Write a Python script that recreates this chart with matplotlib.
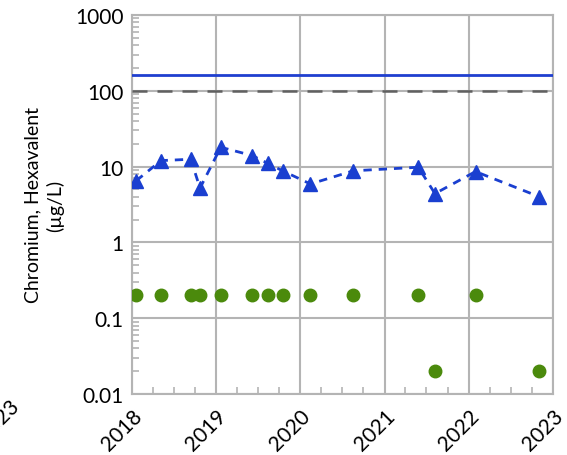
import matplotlib
matplotlib.use("Agg")
import matplotlib.pyplot as plt
import matplotlib.dates as mdates
import matplotlib.ticker as mticker
import numpy as np
import datetime as dt

plt.rcParams['font.family'] = ['Lato', 'DejaVu Sans']

dates = ["2018-01-19", "2018-05-07", "2018-09-13", "2018-10-23", "2019-01-21",
         "2019-06-06", "2019-08-14", "2019-10-16", "2020-02-14", "2020-08-18",
         "2021-05-27", "2021-08-07", "2022-01-30", "2022-11-03"]
hexavalent = [6.5, 12, 12.5, 5.2, 18, 14, 11, 8.8, 5.9, 8.8, 9.8, 4.4, 8.6, 4.0]
reporting_limit = [0.2, 0.2, 0.2, 0.2, 0.2, 0.2, 0.2, 0.2, 0.2, 0.2, 0.2, 0.02, 0.2, 0.02]
upper_limit = 160
screening_level = 100
year_labels = ["2018", "2019", "2020", "2021", "2022", "2023"]
y_ticks = [0.01, 0.1, 1, 10, 100, 1000]
y_tick_labels = ["0.01", "0.1", "1", "10", "100", "1000"]

x = [dt.datetime.strptime(d, "%Y-%m-%d") for d in dates]

fig = plt.figure(figsize=(5.67, 4.56), dpi=100)
ax = fig.add_axes([0.2328, 0.1338, 0.7425, 0.8311])

ax.axhline(upper_limit, color="#1f3fcf", lw=2.0, zorder=3)
ax.axhline(screening_level, color="#606060", lw=1.8, ls=(0, (6, 4)), zorder=3)
ax.plot(x, hexavalent, color="#1a3fd0", lw=2.0, ls=(0, (3, 2.5)), marker="^",
        markersize=10, zorder=4)
ax.plot(x, reporting_limit, ls="none", marker="o", color="#4b8a0c",
        markersize=9, zorder=4)

ax.set_yscale("log")
ax.set_ylim(0.01, 1000)
ax.set_yticks(y_ticks)
ax.set_yticklabels(y_tick_labels)
ax.yaxis.set_minor_locator(mticker.LogLocator(base=10, subs=np.arange(2, 10)))
ax.yaxis.set_minor_formatter(mticker.NullFormatter())

years = [dt.datetime(int(y), 1, 1) for y in year_labels]
ax.set_xlim(years[0], years[-1])
ax.set_xticks(years)
ax.set_xticklabels(year_labels, rotation=45, ha="right", rotation_mode="anchor")
ax.xaxis.set_minor_locator(mdates.MonthLocator(bymonth=[4, 7, 10]))

ax.grid(True, which="major", color="#b4b4b4", lw=1.5, zorder=0)
for s in ax.spines.values():
    s.set_color("#b4b4b4")
    s.set_linewidth(1.5)
ax.tick_params(axis="both", which="major", length=0, labelsize=15, colors="black", pad=6)
ax.tick_params(axis="both", which="minor", direction="in", length=5, color="#b4b4b4", width=1.2)
ax.tick_params(axis="x", which="major", pad=8)

ax.set_ylabel("Chromium, Hexavalent\n(µg/L)", fontsize=14, labelpad=8, linespacing=1.3)

fig.text(-0.045, 0.025, "2023", rotation=45, fontsize=15, ha="left", va="bottom")

fig.savefig("out.png", dpi=100)
